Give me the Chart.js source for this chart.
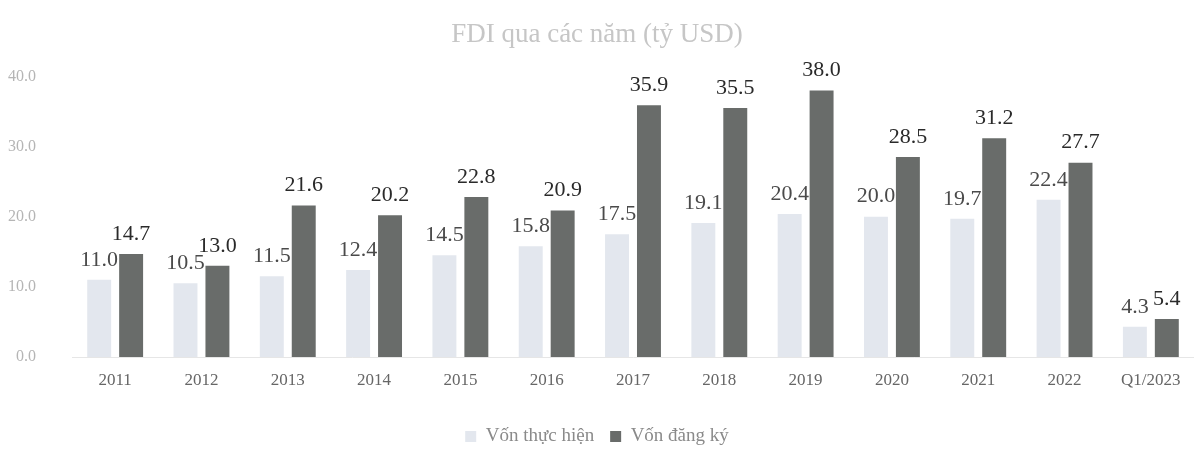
<!DOCTYPE html>
<html>
<head>
<meta charset="utf-8">
<script src="https://cdn.jsdelivr.net/npm/chart.js@4.4.0/dist/chart.umd.min.js"></script>
<style>
  html, body { margin: 0; padding: 0; background: #ffffff; }
  #wrap { width: 1194px; height: 452px; position: relative; }
</style>
</head>
<body>
<div id="wrap"><canvas id="fdiChart"></canvas></div>
<script>
// FDI qua cac nam
const years = ['2011', '2012', '2013', '2014', '2015', '2016', '2017', '2018', '2019', '2020', '2021', '2022', 'Q1/2023'];
const vonThucHien = [11.0, 10.5, 11.5, 12.4, 14.5, 15.8, 17.5, 19.1, 20.4, 20.0, 19.7, 22.4, 4.3];
const vonDangKy = [14.7, 13.0, 21.6, 20.2, 22.8, 20.9, 35.9, 35.5, 38.0, 28.5, 31.2, 27.7, 5.4];
const yTicks = [0, 10, 20, 30, 40];

const serif = "'Liberation Serif', 'DejaVu Serif', serif";

// draw value labels above each bar
const valueLabels = {
    id: 'valueLabels',
    afterDatasetsDraw(chart) {
        const ctx = chart.ctx;
        ctx.save();
        ctx.font = '22px ' + serif;
        ctx.textAlign = 'center';
        ctx.textBaseline = 'bottom';
        chart.data.datasets.forEach((ds, i) => {
            const meta = chart.getDatasetMeta(i);
            ctx.fillStyle = i === 0 ? '#4a4a4a' : '#2a2a2a';
            meta.data.forEach((bar, j) => {
                ctx.fillText(ds.data[j].toFixed(1), bar.x, bar.y - 9);
            });
        });
        ctx.restore();
    }
};

// make the legend box shorter so the items sit lower on the page
const legendHeight = {
    id: 'legendHeight',
    beforeInit(chart) {
        const origFit = chart.legend.fit;
        chart.legend.fit = function() {
            origFit.bind(chart.legend)();
            this.height = 41;
        };
    }
};

const ctx = document.getElementById('fdiChart');
new Chart(ctx, {
    type: 'bar',
    data: {
        labels: years,
        datasets: [{
            label: 'Vốn thực hiện',
            data: vonThucHien,
            backgroundColor: '#e3e7ee',
            categoryPercentage: 0.74,
            barPercentage: 0.75
        }, {
            label: 'Vốn đăng ký',
            data: vonDangKy,
            backgroundColor: '#696c6a',
            categoryPercentage: 0.74,
            barPercentage: 0.75
        }]
    },
    options: {
        responsive: true,
        maintainAspectRatio: false,
        animation: false,
        layout: {
            padding: { left: 0, right: 0, top: 0, bottom: 0 }
        },
        plugins: {
            title: {
                display: true,
                text: 'FDI qua các năm (tỷ USD)',
                color: '#c6c6c6',
                font: { family: serif, size: 27, weight: 'normal' },
                padding: { top: 19, bottom: 25 }
            },
            legend: {
                position: 'bottom',
                labels: {
                    color: '#8a8a8a',
                    font: { family: serif, size: 19 },
                    boxWidth: 11,
                    boxHeight: 11,
                    padding: 16
                }
            },
            tooltip: { enabled: false }
        },
        scales: {
            x: {
                afterFit(axis) {
                    axis.height = 54;
                },
                grid: { display: false, drawTicks: false },
                border: { color: '#e6e6e6' },
                ticks: {
                    color: '#666666',
                    font: { family: serif, size: 17 },
                    padding: 13,
                    maxRotation: 0,
                    autoSkip: false
                }
            },
            y: {
                min: 0,
                max: 40,
                afterBuildTicks(axis) {
                    axis.ticks = yTicks.map(v => ({ value: v }));
                },
                afterFit(axis) {
                    axis.width = 72;
                },
                grid: { display: false, drawTicks: false },
                border: { display: false },
                ticks: {
                    color: '#b5b5b5',
                    font: { family: serif, size: 16 },
                    padding: 36,
                    callback: v => v.toFixed(1)
                }
            }
        }
    },
    plugins: [valueLabels, legendHeight]
});
</script>
</body>
</html>
